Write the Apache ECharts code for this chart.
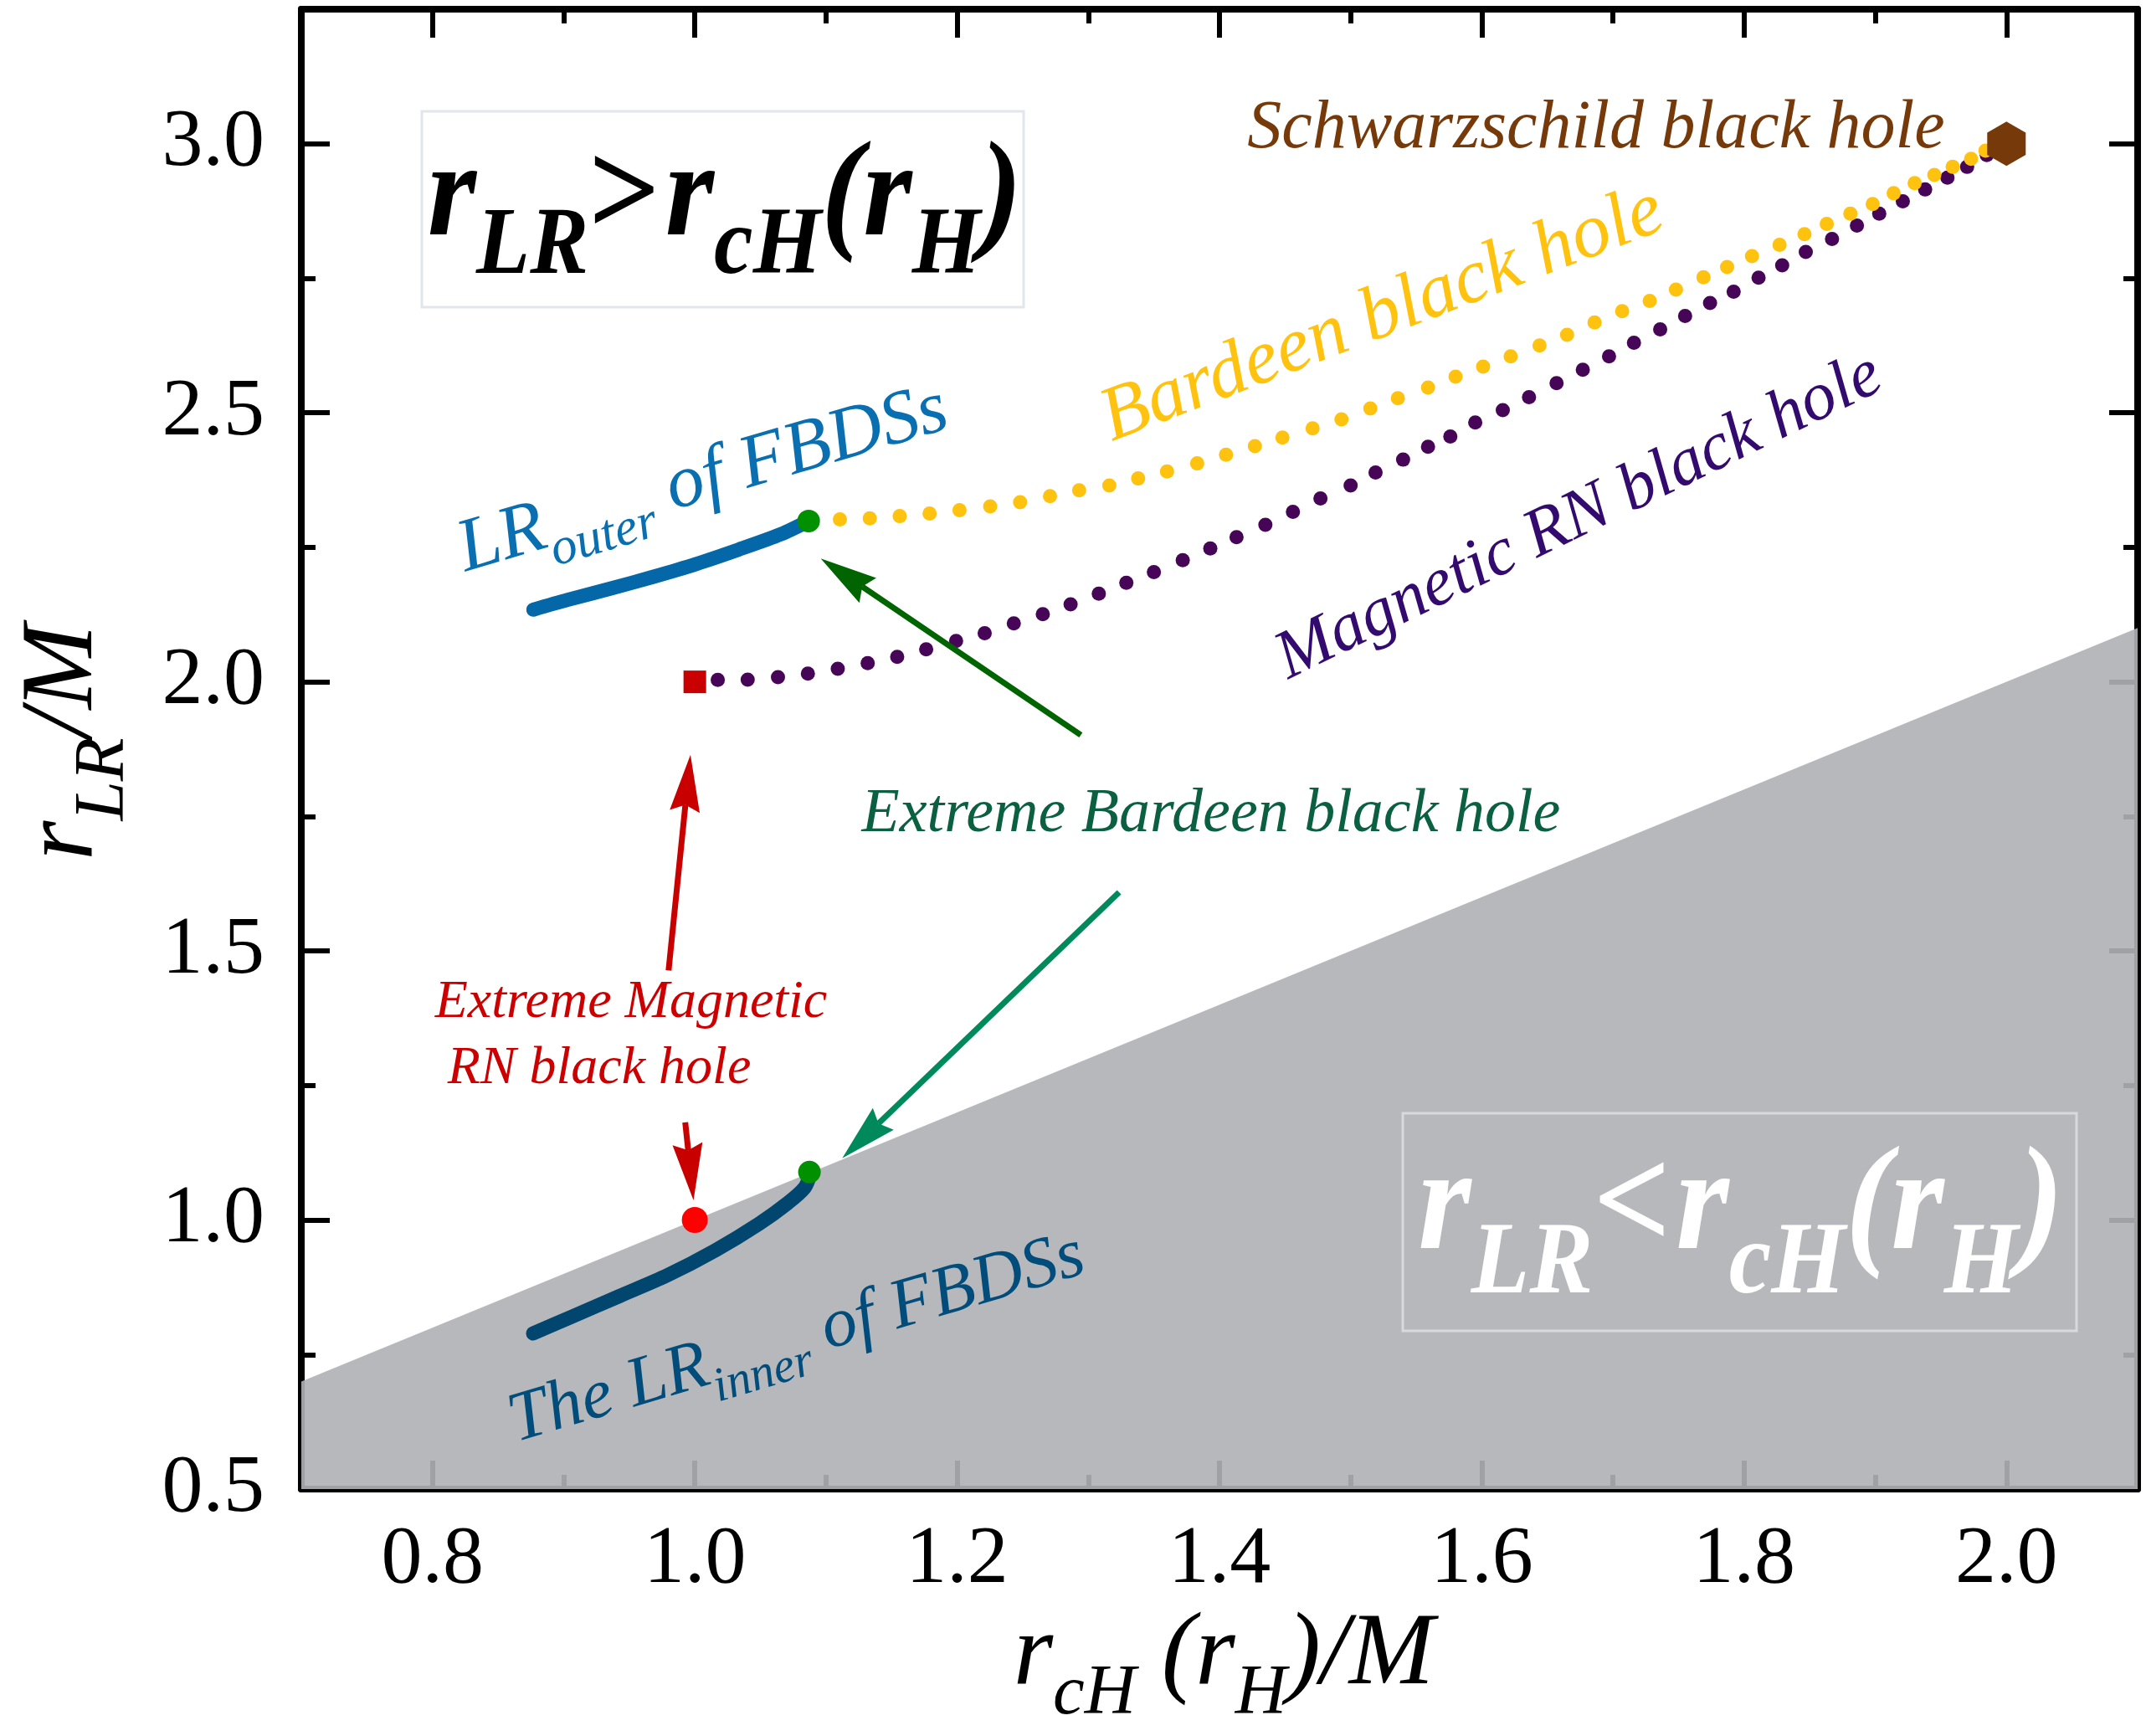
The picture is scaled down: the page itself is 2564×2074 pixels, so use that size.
<!DOCTYPE html>
<html>
<head>
<meta charset="utf-8">
<script src="https://cdn.jsdelivr.net/npm/echarts@6/dist/echarts.min.js"></script>
<style>
html,body{margin:0;padding:0;background:#fff;}
#chart{width:2564px;height:2074px;}
</style>
</head>
<body>
<div id="chart"></div>
<script>
// ---------- data ----------
const xMajorTicks = [0.8, 1.0, 1.2, 1.4, 1.6, 1.8, 2.0];
const xMinorTicks = [0.9, 1.1, 1.3, 1.5, 1.7, 1.9];
const yMajorTicks = [0.5, 1.0, 1.5, 2.0, 2.5, 3.0];
const yMinorTicks = [0.75, 1.25, 1.75, 2.25, 2.75];

// boundary r_LR = r_cH (shaded region below)
const boundaryX = [0.7, 2.1];
const boundaryY = [0.7, 2.1];

// outer light ring of FBDSs
const outerX = [0.8769, 0.9030, 0.9355, 0.9680, 1.0005, 1.0332, 1.0657, 1.0868];
const outerY = [2.1343, 2.1524, 2.1731, 2.1951, 2.2187, 2.2457, 2.2744, 2.2990];

// inner light ring of FBDSs
const innerX = [0.8767, 0.9060, 0.9427, 0.9793, 1.0159, 1.0489, 1.0709, 1.0837, 1.0880];
const innerY = [0.7892, 0.8201, 0.8588, 0.8975, 0.9439, 0.9929, 1.0316, 1.0599, 1.0850];

// Bardeen black hole
const bardeenX = [1.1106,1.1334,1.1562,1.1790,1.2018,1.2252,1.2480,1.2708,1.2930,
  1.316,1.338,1.360,1.383,1.405,1.427,1.448,1.471,1.493,1.515,1.536,1.559,1.580,1.601,1.622,
  1.644,1.665,1.686,1.707,1.728,1.748,1.769,1.787,1.806,1.827,1.846,1.863,1.881,1.898,1.914,
  1.930,1.945,1.959,1.973,1.984];
const bardeenY = [2.302,2.304,2.308,2.313,2.319,2.326,2.334,2.345,2.356,
  2.365,2.378,2.391,2.406,2.422,2.438,2.454,2.471,2.488,2.508,2.527,2.547,2.567,2.586,2.605,
  2.625,2.645,2.668,2.689,2.708,2.729,2.752,2.771,2.791,2.812,2.832,2.851,2.870,2.888,2.908,
  2.927,2.942,2.957,2.972,2.987];

// Magnetic RN black hole
const magRNX = [1.0175,1.0403,1.0634,1.0862,1.1090,1.1318,1.1543,1.1764,1.1992,1.2210,1.2432,1.2653,1.2865,
  1.308,1.329,1.350,1.372,1.393,1.413,1.435,1.456,1.477,1.500,1.519,1.540,1.559,1.576,1.595,
  1.616,1.636,1.657,1.677,1.697,1.716,1.736,1.755,1.774,1.792,1.811,1.829,1.847,1.867,1.886,
  1.903,1.921,1.938,1.955,1.970,1.985];
const magRNY = [2.0036,2.0041,2.0088,2.0155,2.0243,2.0347,2.0466,2.0606,2.0761,2.0906,2.1088,2.1259,2.1440,
  2.164,2.184,2.204,2.226,2.248,2.269,2.292,2.316,2.341,2.365,2.389,2.413,2.437,2.456,2.482,
  2.505,2.529,2.555,2.580,2.605,2.630,2.655,2.680,2.704,2.725,2.751,2.774,2.799,2.823,2.848,
  2.870,2.893,2.915,2.937,2.957,2.979];

// special points
const extremeBardeenX = [1.0868, 1.0874];
const extremeBardeenY = [2.2990, 1.0890];
const extremeRNSquare = [1.0, 2.0];
const extremeRNCircle = [1.0, 1.0];
const schwarzschildPt = [2.0, 3.0];

// annotation arrows (data coordinates)
const arrowFrom = [[1.2943, 1.9013], [1.3235, 1.6089], [0.980, 1.4639], [0.9927, 1.1816]];
const arrowTo   = [[1.0960, 2.2294], [1.1124, 1.1147], [0.9967, 1.8645], [0.9990, 1.0366]];
const arrowColors = ['#006400', '#008a5c', '#c80000', '#c80000'];

// ---------- helpers ----------
const zip = (a, b) => a.map((v, i) => [v, b[i]]);
const FAM = 'Liberation Serif';
const mctx = document.createElement('canvas').getContext('2d');

function mathLabel(parts, o) {
  const K = 0.3375;
  const fontOf = (p) => {
    const size = p[1] === 's' ? o.f : o.F;
    const ital = o.italic && !p[2];
    return { size, ital, css: (ital ? 'italic ' : '') + (o.bold ? 'bold ' : '') + size + 'px "' + FAM + '"' };
  };
  const widths = parts.map(p => { mctx.font = fontOf(p).css; return mctx.measureText(p[0]).width + (p[3] || 0); });
  const total = widths.reduce((a, b) => a + b, 0);
  let x = -total / 2;
  const children = parts.map((p, i) => {
    const fo = fontOf(p);
    const y = p[1] === 's' ? o.drop + K * (o.F - o.f) : 0;
    const el = {
      type: 'text', x: x, y: y, z: 100,
      style: {
        text: p[0], fontSize: fo.size, fontFamily: FAM,
        fontStyle: fo.ital ? 'italic' : 'normal', fontWeight: o.bold ? 'bold' : 'normal',
        fill: o.color, align: 'left', textAlign: 'left', verticalAlign: 'middle', textVerticalAlign: 'middle'
      }
    };
    x += widths[i];
    return el;
  });
  return { type: 'group', x: o.x, y: o.y, rotation: (o.rot || 0) * Math.PI / 180,
    scaleX: 1, scaleY: o.sy || 1, z: 100, children };
}

// ---------- chart ----------
const chart = echarts.init(document.getElementById('chart'), null, { renderer: 'canvas' });

const axisCommon = (extra) => Object.assign({
  type: 'value', splitLine: { show: false }, silent: true,
  axisLine: { show: true, onZero: false, lineStyle: { color: '#000', width: 8 } },
  axisLabel: { show: false }
}, extra);

const xMin = 0.7, xMax = 2.1, yMin = 0.5, yMax = 3.25;

const xAxes = [
  axisCommon({ position: 'bottom', min: xMin, max: xMax,
    axisTick: { show: true, inside: true, length: 34, lineStyle: { color: '#000', width: 6 }, customValues: xMajorTicks },
    axisLabel: { show: true, customValues: xMajorTicks, formatter: v => v.toFixed(1), fontSize: 98, fontFamily: FAM, color: '#000', margin: 36 } }),
  axisCommon({ position: 'bottom', min: xMin, max: xMax, axisLine: { show: false },
    axisTick: { show: true, inside: true, length: 17, lineStyle: { color: '#000', width: 6 }, customValues: xMinorTicks } }),
  axisCommon({ position: 'top', min: xMin, max: xMax,
    axisTick: { show: true, inside: true, length: 34, lineStyle: { color: '#000', width: 6 }, customValues: xMajorTicks } }),
  axisCommon({ position: 'top', min: xMin, max: xMax, axisLine: { show: false },
    axisTick: { show: true, inside: true, length: 17, lineStyle: { color: '#000', width: 6 }, customValues: xMinorTicks } })
];
const yAxes = [
  axisCommon({ position: 'left', min: yMin, max: yMax,
    axisTick: { show: true, inside: true, length: 34, lineStyle: { color: '#000', width: 6 }, customValues: yMajorTicks },
    axisLabel: { show: true, customValues: yMajorTicks, formatter: v => v.toFixed(1), fontSize: 98, fontFamily: FAM, color: '#000', margin: 44 } }),
  axisCommon({ position: 'left', min: yMin, max: yMax, axisLine: { show: false },
    axisTick: { show: true, inside: true, length: 17, lineStyle: { color: '#000', width: 6 }, customValues: yMinorTicks } }),
  axisCommon({ position: 'right', min: yMin, max: yMax,
    axisTick: { show: true, inside: true, length: 34, lineStyle: { color: '#000', width: 6 }, customValues: yMajorTicks } }),
  axisCommon({ position: 'right', min: yMin, max: yMax, axisLine: { show: false },
    axisTick: { show: true, inside: true, length: 17, lineStyle: { color: '#000', width: 6 }, customValues: yMinorTicks } })
];

const hexPath = 'path://M50,0 L93.3,25 L93.3,75 L50,100 L6.7,75 L6.7,25 Z';
const solid = (c) => ({ color: c, opacity: 1 });

const series = [
  { name: 'region', type: 'line', data: zip(boundaryX, boundaryY), symbol: 'none', silent: true,
    lineStyle: { width: 0 }, areaStyle: { origin: 'start', color: 'rgba(176,177,181,0.91)', opacity: 1 }, z: 1 },
  { name: 'Magnetic RN black hole', type: 'scatter', data: zip(magRNX, magRNY), symbol: 'circle', symbolSize: 17,
    itemStyle: solid('#460556'), z: 3 },
  { name: 'Bardeen black hole', type: 'scatter', data: zip(bardeenX, bardeenY), symbol: 'circle', symbolSize: 17,
    itemStyle: solid('#ffc20e'), z: 4 },
  { name: 'LR outer of FBDSs', type: 'line', data: zip(outerX, outerY), symbol: 'none', smooth: 0.3,
    lineStyle: { color: '#0468a8', width: 17, cap: 'round', join: 'round' }, z: 5 },
  { name: 'LR inner of FBDSs', type: 'line', data: zip(innerX, innerY), symbol: 'none', smooth: 0.3,
    lineStyle: { color: '#00466f', width: 17, cap: 'round', join: 'round' }, z: 5 },
  { name: 'Extreme Bardeen', type: 'scatter', data: zip(extremeBardeenX, extremeBardeenY), symbol: 'circle', symbolSize: 27,
    itemStyle: solid('#009000'), z: 7 },
  { name: 'Extreme magnetic RN (outer)', type: 'scatter', data: [extremeRNSquare], symbol: 'rect', symbolSize: 27,
    itemStyle: solid('#c80000'), z: 7 },
  { name: 'Extreme magnetic RN (inner)', type: 'scatter', data: [extremeRNCircle], symbol: 'circle', symbolSize: 31,
    itemStyle: solid('#ff0000'), z: 7 },
  { name: 'Schwarzschild', type: 'scatter', data: [schwarzschildPt], symbol: hexPath, symbolSize: [46, 53],
    itemStyle: solid('#763a0a'), z: 7 },
  { name: 'arrows', type: 'custom', z: 8, silent: true,
    data: arrowFrom.map((a, i) => [a[0], a[1], arrowTo[i][0], arrowTo[i][1]]),
    encode: { x: [0, 2], y: [1, 3] },
    renderItem: function (params, api) {
      const p1 = api.coord([api.value(0), api.value(1)]);
      const p2 = api.coord([api.value(2), api.value(3)]);
      const dx = p2[0] - p1[0], dy = p2[1] - p1[1];
      const len = Math.hypot(dx, dy), ux = dx / len, uy = dy / len;
      const L = 68, W = 18, notch = 8;
      const bx = p2[0] - ux * L, by = p2[1] - uy * L;
      const c = arrowColors[params.dataIndex];
      return { type: 'group', children: [
        { type: 'line', shape: { x1: p1[0], y1: p1[1], x2: bx + ux * notch, y2: by + uy * notch },
          style: { stroke: c, lineWidth: 7 } },
        { type: 'polygon', shape: { points: [
            [p2[0], p2[1]], [bx - uy * W, by + ux * W], [bx + ux * notch, by + uy * notch], [bx + uy * W, by - ux * W]] },
          style: { fill: c } }
      ] };
    } }
];

const graphics = [
  // region boxes
  { type: 'rect', z: 99, shape: { x: 504, y: 133, width: 719, height: 234 },
    style: { fill: '#ffffff', stroke: '#e1e5ec', lineWidth: 3 } },
  { type: 'rect', z: 99, shape: { x: 1676, y: 1330, width: 805, height: 260 },
    style: { fill: 'none', stroke: '#d9d9dd', lineWidth: 3 } },
  mathLabel([['r','m'],['LR','s'],['>','m',true,6],['r','m'],['cH','s'],['(','m'],['r','m'],['H','s'],[')','m']],
    { x: 866, y: 238, F: 150, f: 105, drop: 39, italic: true, bold: true, color: '#000', sy: 1.08 }),
  mathLabel([['r','m'],['LR','s'],['<','m',true,6],['r','m'],['cH','s'],['(','m'],['r','m'],['H','s'],[')','m']],
    { x: 2080, y: 1446, F: 163, f: 114, drop: 45, italic: true, bold: true, color: '#ffffff', sy: 1.08 }),
  // axis titles
  mathLabel([['r','m'],['cH','s'],[' (','m'],['r','m'],['H','s'],[')/M','m']],
    { x: 1462, y: 1979, F: 122, f: 85, drop: 33, italic: true, color: '#000' }),
  mathLabel([['r','m'],['LR','s'],['/M','m']],
    { x: 77, y: 887, F: 122, f: 85, drop: 35, italic: true, color: '#000', rot: 90 }),
  // curve labels
  mathLabel([['Schwarzschild black hole','m']],
    { x: 1907, y: 154, F: 82, f: 60, drop: 0, italic: true, color: '#763a0a' }),
  mathLabel([['Bardeen black hole','m']],
    { x: 1652, y: 377, F: 92, f: 60, drop: 0, italic: true, color: '#ffc20e', rot: 21 }),
  mathLabel([['Magnetic RN black hole','m']],
    { x: 1887, y: 618, F: 82, f: 60, drop: 0, italic: true, color: '#330a6e', rot: 26 }),
  mathLabel([['LR','m'],['outer','s'],[' of FBDSs','m']],
    { x: 840, y: 574, F: 90, f: 62, drop: 22, italic: true, color: '#0a6fb0', rot: 16.5 }),
  mathLabel([['The LR','m'],['inner','s'],[' of FBDSs','m']],
    { x: 952, y: 1600, F: 84, f: 58, drop: 21, italic: true, color: '#004c7a', rot: 16.5 }),
  mathLabel([['Extreme Bardeen black hole','m']],
    { x: 1447, y: 974, F: 74, f: 50, drop: 0, italic: true, color: '#0a6040' }),
  mathLabel([['Extreme Magnetic','m']],
    { x: 754, y: 1198, F: 64, f: 50, drop: 0, italic: true, color: '#cc0000' }),
  mathLabel([['RN black hole','m']],
    { x: 716, y: 1277, F: 64, f: 50, drop: 0, italic: true, color: '#cc0000' })
];

chart.setOption({
  animation: false,
  backgroundColor: '#ffffff',
  textStyle: { fontFamily: FAM },
  grid: { left: 360, right: 10, top: 11, bottom: 295, containLabel: false },
  xAxis: xAxes,
  yAxis: yAxes,
  series: series,
  graphic: graphics
});
</script>
</body>
</html>
